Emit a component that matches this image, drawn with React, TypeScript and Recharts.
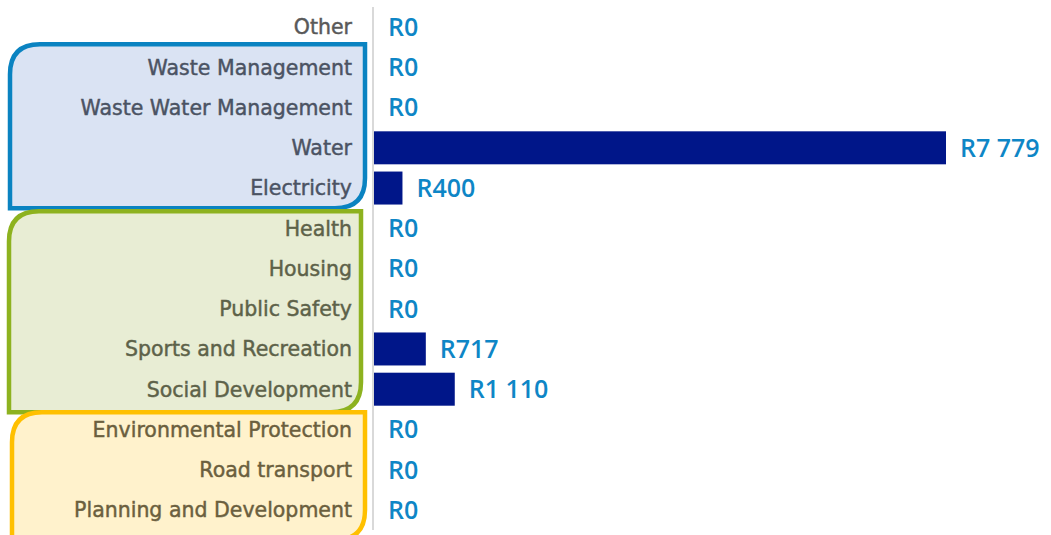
import { BarChart, Bar, XAxis, YAxis, LabelList } from "recharts";

const categories = [
  "Other",
  "Waste Management",
  "Waste Water Management",
  "Water",
  "Electricity",
  "Health",
  "Housing",
  "Public Safety",
  "Sports and Recreation",
  "Social Development",
  "Environmental Protection",
  "Road transport",
  "Planning and Development",
];

const amounts = [0, 0, 0, 7779, 400, 0, 0, 0, 717, 1110, 0, 0, 0];

// which label colour each row uses
const labelGroup = [0, 1, 1, 1, 1, 2, 2, 2, 2, 2, 3, 3, 3];
const labelColors = ["#595959", "#4b5363", "#5d6249", "#6b5f3e"];

const groups = [
  { from: 1, to: 4, stroke: "#0a83c1", fill: "#dae3f3", left: 10, right: 365, padTop: -3, padBottom: 0 },
  { from: 5, to: 9, stroke: "#8db21f", fill: "#e8edd4", left: 9, right: 361, padTop: 3, padBottom: 3 },
  { from: 10, to: 12, stroke: "#ffc000", fill: "#fff2cc", left: 12, right: 365, padTop: 3, padBottom: 10 },
];

const data = categories.map((name, i) => ({ name, value: amounts[i] }));

const W = 1051;
const H = 535;
const TOP = 7;
const BOTTOM = 5;
const band = (H - TOP - BOTTOM) / categories.length;

const fmt = (v: number) => "R" + String(v).replace(/\B(?=(\d{3})+(?!\d))/g, " ");

// rounded top-left and bottom-right, square on the other corners
function boxPath(x1: number, y1: number, x2: number, y2: number, r: number) {
  return [
    `M ${x1} ${y1 + r}`,
    `Q ${x1} ${y1} ${x1 + r} ${y1}`,
    `L ${x2} ${y1}`,
    `L ${x2} ${y2 - r}`,
    `Q ${x2} ${y2} ${x2 - r} ${y2}`,
    `L ${x1} ${y2}`,
    "Z",
  ].join(" ");
}

function CategoryTick(props: any) {
  const { x, y, payload, index } = props;
  const color = labelColors[labelGroup[index ?? payload.index] ?? 0];
  return (
    <text
      x={x}
      y={y}
      dy="0.36em"
      textAnchor="end"
      fill={color}
      stroke={color}
      strokeWidth={0.45}
      fontSize={20.5}
      fontFamily="DejaVu Sans, sans-serif"
    >
      {payload.value}
    </text>
  );
}

// zero rows keep a 1px placeholder so their label still shows, but draw no rect
function BarShape(props: any) {
  const { x, y, width, height, value } = props;
  const v = Array.isArray(value) ? value[1] - value[0] : value;
  if (!v) return <g />;
  return <rect x={x} y={y} width={width} height={height} fill="#001689" />;
}

export default function App() {
  return (
    <div style={{ position: "relative", width: W, height: H, background: "#fff" }}>
      <style>{`body{margin:0}`}</style>
      <svg width={W} height={H} style={{ position: "absolute", left: 0, top: 0 }}>
        {groups.map((g, i) => {
          const y1 = TOP + band * g.from + g.padTop;
          const y2 = TOP + band * (g.to + 1) + g.padBottom;
          return (
            <path
              key={i}
              d={boxPath(g.left, y1, g.right, y2, 30)}
              fill={g.fill}
              stroke={g.stroke}
              strokeWidth={4.5}
            />
          );
        })}
      </svg>
      <div style={{ position: "absolute", left: 0, top: 0 }}>
        <BarChart
          width={W}
          height={H}
          data={data}
          layout="vertical"
          margin={{ top: TOP, right: 105, bottom: BOTTOM, left: 0 }}
          barCategoryGap="9%"
        >
          <XAxis type="number" domain={[0, 7779]} hide />
          <YAxis
            type="category"
            dataKey="name"
            width={373}
            tickLine={false}
            tickSize={0}
            tickMargin={21}
            axisLine={{ stroke: "#d9d9d9", strokeWidth: 2 }}
            tick={<CategoryTick />}
            interval={0}
          />
          <Bar
            dataKey="value"
            fill="#001689"
            minPointSize={1}
            shape={<BarShape />}
            isAnimationActive={false}
          >
            <LabelList
              dataKey="value"
              position="right"
              offset={14}
              formatter={(v: any) => fmt(Number(v))}
              fill="#0e86c6"
              fontSize={25}
              fontWeight={600}
              fontFamily="Open Sans, sans-serif"
            />
          </Bar>
        </BarChart>
      </div>
    </div>
  );
}
